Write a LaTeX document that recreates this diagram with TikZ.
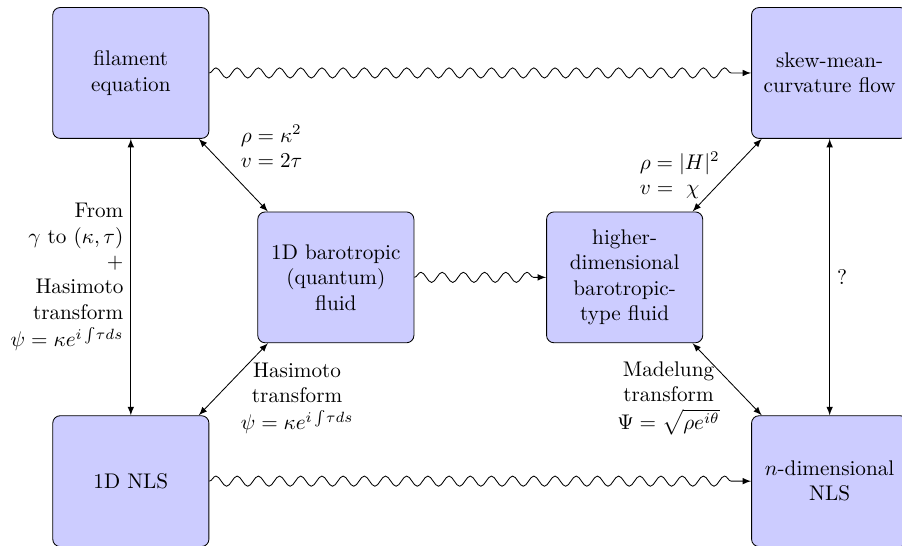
\documentclass[tikz,border=0pt]{standalone}
\usepackage{amsmath}
\usetikzlibrary{decorations.pathmorphing}

\tikzset{
  eqbox/.style={draw, fill=blue!20, rounded corners=3.5pt, align=center,
    minimum width=2.59cm, minimum height=2.17cm},
  wavy/.style={->, >=latex, decorate,
    decoration={snake, amplitude=2.4pt, segment length=10pt, post length=1.6mm}},
  link/.style={<->, >=latex}
}

\begin{document}
\begin{tikzpicture}
                \useasboundingbox (0,0) rectangle (14.960000,9.050000);
                \clip (0,0) rectangle (14.960000,9.050000);

                % Boxes, top row
                \node [eqbox] (filament) at (2.170000,7.840000) {filament\\equation};
                \node [eqbox] (skew) at (13.760000,7.840000) {skew-mean-\\curvature flow};

                % Boxes, middle row
                \node [eqbox] (baro) at (5.570000,4.450000) {1D barotropic\\(quantum)\\fluid};
                \node [eqbox] (higher) at (10.360000,4.450000) {higher-\\dimensional\\barotropic-\\type fluid};

                % Boxes, bottom row
                \node [eqbox] (nls) at (2.170000,1.070000) {1D NLS};
                \node [eqbox] (ndim) at (13.760000,1.070000) {$n$-dimensional\\NLS};

                % Wavy arrows
                \draw [wavy] (filament.east) -- (skew.west);%
                \draw [wavy] (baro.east) -- (higher.west);%
                \draw [wavy] (nls.east) -- (ndim.west);%

                % Vertical links
                \draw [link] (filament.south) -- (nls.north)
                  node (fromlbl) [midway, left, align=right]
                  {From\\$\gamma$ to $(\kappa,\tau)$\\$+$\\Hasimoto\\transform\\[1pt]$\psi=\kappa e^{i\int\!\tau ds}$};%
                \draw [link] (skew.south) -- (ndim.north)
                  node (qlbl) [midway, right] {?};%

                % Diagonal links
                \draw [link] ([xshift=-5pt]filament.south east) -- ([xshift=5pt]baro.north west)
                  node (rholbl) [midway, above right, align=left] {$\rho=\kappa^2$\\$v=2\tau$};%
                \draw [link] ([xshift=5pt]skew.south west) -- ([xshift=-5pt]higher.north east)
                  node (hlbl) [midway, left, align=left] {$\rho=|H|^2$\\$v=\ \chi$};%
                \draw [link] ([xshift=-5pt]nls.north east) -- ([xshift=5pt]baro.south west)
                  node (haslbl) [midway, anchor=west, yshift=-9pt, align=center]
                  {Hasimoto\\transform\\[1pt]$\psi=\kappa e^{i\int\!\tau ds}$};%
                \draw [link] ([xshift=5pt]ndim.north west) -- ([xshift=-5pt]higher.south east)
                  node (madlbl) [midway, anchor=east, yshift=-9pt, align=center]
                  {Madelung\\transform\\[1pt]$\Psi=\sqrt{\rho e^{i\theta}}$};%
\end{tikzpicture}
\end{document}
